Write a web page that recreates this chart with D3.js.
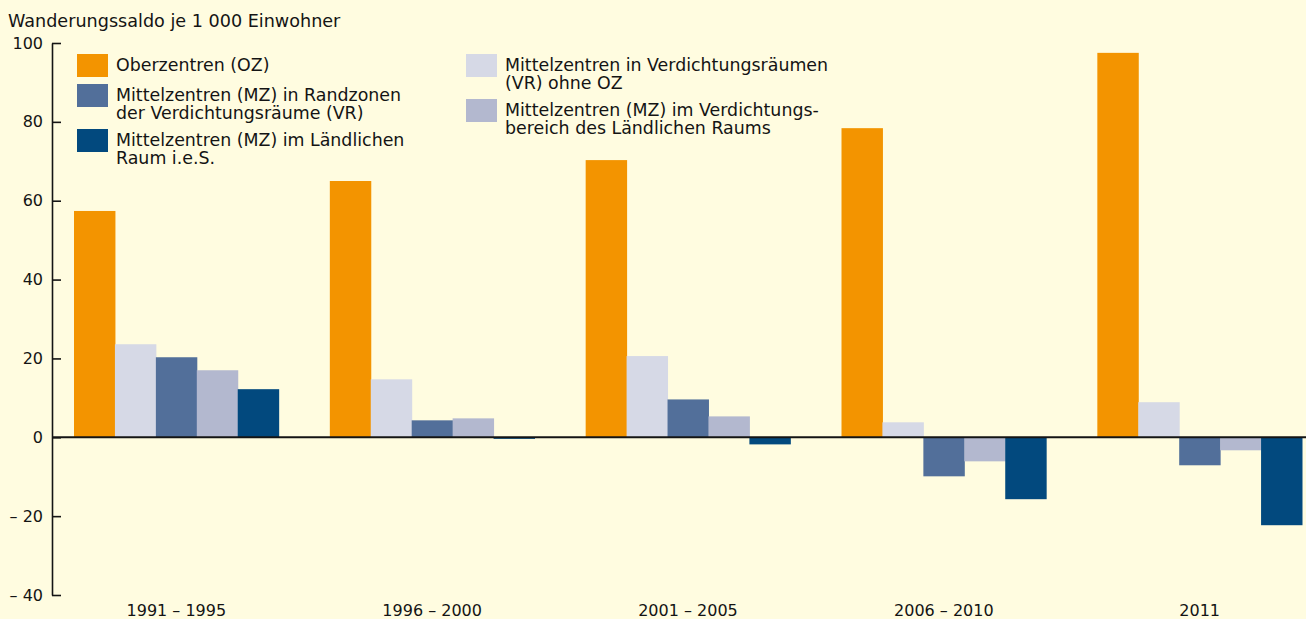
<!DOCTYPE html>
<html>
<head>
<meta charset="utf-8">
<script src="https://cdn.jsdelivr.net/npm/d3@7"></script>
<style>
	body { margin: 0; background: #fffce0; }
	svg { display: block; }
	text { font-family: "DejaVu Sans", sans-serif; fill: #141414; }
</style>
</head>
<body>
<div id="chart"></div>
<script>
// categories on the x axis
const categories = ["1991 – 1995", "1996 – 2000", "2001 – 2005", "2006 – 2010", "2011"];

// series, in the order the bars stand inside each group
const series_keys = ["oz", "vr_ohne_oz", "mz_rand", "mz_verd", "mz_land"];
const series_names = {
	oz: ["Oberzentren (OZ)"],
	mz_rand: ["Mittelzentren (MZ) in Randzonen", "der Verdichtungsräume (VR)"],
	mz_land: ["Mittelzentren (MZ) im Ländlichen", "Raum i.e.S."],
	vr_ohne_oz: ["Mittelzentren in Verdichtungsräumen", "(VR) ohne OZ"],
	mz_verd: ["Mittelzentren (MZ) im Verdichtungs-", "bereich des Ländlichen Raums"]
};

const oz = [57.4, 65.0, 70.3, 78.4, 97.5];
const vr_ohne_oz = [23.6, 14.7, 20.6, 3.8, 8.9];
const mz_rand = [20.3, 4.3, 9.6, -9.9, -7.1];
const mz_verd = [17.0, 4.8, 5.3, -6.1, -3.3];
const mz_land = [12.2, -0.4, -1.8, -15.7, -22.3];

const y_ticks = [-40, -20, 0, 20, 40, 60, 80, 100];

// legend columns
const legend_left = ["oz", "mz_rand", "mz_land"];
const legend_right = ["vr_ohne_oz", "mz_verd"];

const values = { oz, vr_ohne_oz, mz_rand, mz_verd, mz_land };

const colors = {
	oz: "#f39400",
	vr_ohne_oz: "#d6d9e6",
	mz_rand: "#526f9a",
	mz_verd: "#b3b8cf",
	mz_land: "#02497e"
};

const W = 1306, H = 619;

const svg = d3.select("#chart").append("svg")
	.attr("width", W)
	.attr("height", H);

svg.append("rect")
	.attr("width", W)
	.attr("height", H)
	.attr("fill", "#fffce0");

// scales
const y = d3.scaleLinear()
	.domain([-40, 100])
	.range([595, 43]);

const x0 = d3.scaleBand()
	.domain(categories)
	.range([74, 1302])
	.paddingInner(0.2)
	.paddingOuter(0);

const x1 = d3.scaleBand()
	.domain(series_keys)
	.range([0, x0.bandwidth()]);

// rows for the bars
const rows = [];
categories.forEach((c, i) => {
	series_keys.forEach((k) => {
		rows.push({ cat: c, key: k, value: values[k][i] });
	});
});

svg.append("g")
	.selectAll("rect")
	.data(rows)
	.join("rect")
	.attr("x", (d) => x0(d.cat) + x1(d.key))
	.attr("y", (d) => y(Math.max(0, d.value)))
	.attr("width", x1.bandwidth() + 0.5)
	.attr("height", (d) => Math.abs(y(d.value) - y(0)))
	.attr("fill", (d) => colors[d.key]);

// y axis, ticks pointing into the plot
const tick_format = (v) => v < 0 ? "– " + Math.abs(v) : String(v);

const y_axis = svg.append("g")
	.attr("transform", "translate(52,0)")
	.call(d3.axisLeft(y)
		.tickValues(y_ticks)
		.tickFormat(tick_format)
		.tickSizeInner(-9)
		.tickSizeOuter(0)
		.tickPadding(9));

y_axis.select(".domain")
	.attr("stroke", "#141414")
	.attr("stroke-width", 1.6);
y_axis.selectAll(".tick line")
	.attr("stroke", "#141414")
	.attr("stroke-width", 1.6);
y_axis.selectAll(".tick text")
	.attr("font-family", "DejaVu Sans, sans-serif")
	.attr("font-size", 16)
	.attr("fill", "#141414");

// zero line across the plot
svg.append("line")
	.attr("x1", 52)
	.attr("x2", W)
	.attr("y1", y(0))
	.attr("y2", y(0))
	.attr("stroke", "#141414")
	.attr("stroke-width", 2);

// category labels
svg.append("g")
	.selectAll("text")
	.data(categories)
	.join("text")
	.attr("x", (d) => x0(d) + x0.bandwidth() / 2)
	.attr("y", 616)
	.attr("text-anchor", "middle")
	.attr("font-size", 16)
	.text((d) => d);

// axis title
svg.append("text")
	.attr("x", 8)
	.attr("y", 27)
	.attr("font-size", 17.6)
	.text("Wanderungssaldo je 1 000 Einwohner");

// legend
function draw_legend(keys, x, tops) {
	const g = svg.append("g");
	keys.forEach((k, i) => {
		g.append("rect")
			.attr("x", x)
			.attr("y", tops[i])
			.attr("width", 31)
			.attr("height", 23)
			.attr("fill", colors[k]);
		const t = g.append("text")
			.attr("x", x + 39)
			.attr("y", tops[i] + 16.8)
			.attr("font-size", 17.4);
		series_names[k].forEach((line, j) => {
			t.append("tspan")
				.attr("x", x + 39)
				.attr("dy", j === 0 ? 0 : 17.8)
				.text(line);
		});
	});
}

draw_legend(legend_left, 77, [54, 84, 129]);
draw_legend(legend_right, 466, [54, 99]);
</script>
</body>
</html>
